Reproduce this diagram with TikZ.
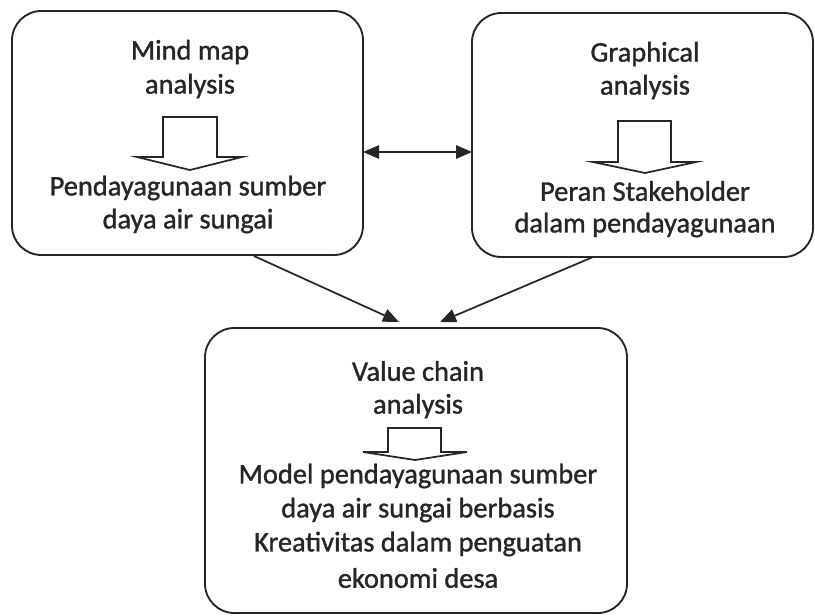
\documentclass[tikz,border=0pt]{standalone}
\usepackage{fontspec}
\setmainfont{Carlito}[FakeBold=1.2]
\usetikzlibrary{arrows.meta}
\begin{document}
\begin{tikzpicture}[x=0.75pt,y=-0.75pt,
  >={Triangle[length=12pt,width=10pt]},
  box/.style={draw=black!85, line width=1.4pt, rounded corners=22pt, inner sep=0pt},
  txt/.style={font=\fontsize{21.3}{24}\selectfont, text=black!85, inner sep=0pt, anchor=center},
  conn/.style={draw=black!85, line width=1.3pt, ->},
  blockarrow/.style={draw=black!85, line width=1.3pt, fill=white, line join=miter}]
\useasboundingbox (0,0) rectangle (815,615);
% boxes
\draw[box] (12,11) rectangle (363,255);
\coordinate (mindE) at (363,152);
\coordinate (mindS) at (254,256);
\draw[box] (472,13) rectangle (813,257);
\coordinate (graphW) at (472,152);
\coordinate (graphS) at (593,257);
\draw[box] (205,328) rectangle (627,613);
\coordinate (valueA) at (399,322);
\coordinate (valueB) at (440,322);
% texts box 1
\node[txt] (t1a) at (190,52) {Mind map};
\node[txt] (t1b) at (190,86) {analysis};
\node[txt] (t1c) at (188,188) {Pendayagunaan sumber};
\node[txt] (t1d) at (188,221) {daya air sungai};
% texts box 2
\node[txt] (t2a) at (645,54) {Graphical};
\node[txt] (t2b) at (645,87) {analysis};
\node[txt] (t2c) at (645,191) {Peran Stakeholder};
\node[txt] (t2d) at (645,225) {dalam pendayagunaan};
% texts box 3
\node[txt] (t3a) at (418,371) {Value chain};
\node[txt] (t3b) at (418,406) {analysis};
\node[txt] (t3c) at (418,476) {Model pendayagunaan sumber};
\node[txt] (t3d) at (418,510) {daya air sungai berbasis};
\node[txt] (t3e) at (418,544) {Kreativitas dalam penguatan};
\node[txt] (t3f) at (418,578) {ekonomi desa};
% block arrows
\draw[blockarrow] (163,117) -- (217,117) -- (217,157) -- (242,157) -- (190,170) -- (137,157) -- (163,157) -- cycle;
\draw[blockarrow] (618,121) -- (671,121) -- (671,162) -- (696,162) -- (645,173) -- (593,162) -- (618,162) -- cycle;
\draw[blockarrow] (388,428) -- (441,428) -- (441,452) -- (467,452) -- (415,460) -- (363,452) -- (388,452) -- cycle;
% connectors
\draw[draw=black!85, line width=1.3pt, <->] (mindE) -- (graphW);
\draw[conn] (mindS) -- (valueA);
\draw[conn] (graphS) -- (valueB);
\end{tikzpicture}
\end{document}
